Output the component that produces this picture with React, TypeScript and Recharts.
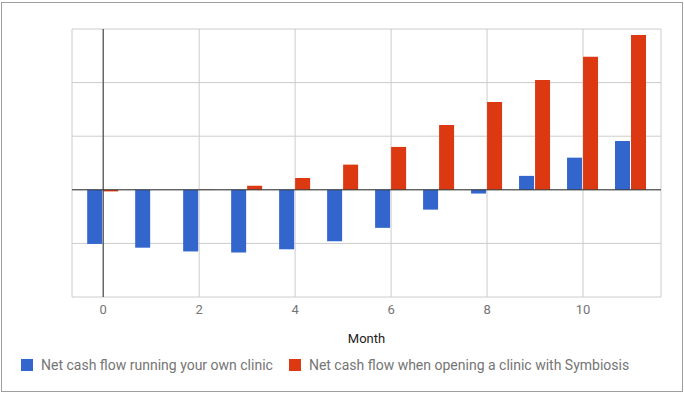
import { BarChart, Bar, XAxis, YAxis, CartesianGrid, ReferenceLine, Label } from 'recharts';

const months = [0, 1, 2, 3, 4, 5, 6, 7, 8, 9, 10, 11];
const ownClinic = [-1.01, -1.08, -1.15, -1.17, -1.11, -0.96, -0.71, -0.37, -0.07, 0.26, 0.6, 0.91];
const symbiosis = [-0.03, 0, 0.005, 0.075, 0.22, 0.47, 0.8, 1.21, 1.64, 2.05, 2.48, 2.89];
const xTicks = [0, 2, 4, 6, 8, 10];
const yTicks = [-2, -1, 0, 1, 2, 3];

const seriesNames = ['Net cash flow running your own clinic', 'Net cash flow when opening a clinic with Symbiosis'];
const colors = ['#3366cc', '#dc3912'];

const data = months.map((m, i) => ({ month: m, own: ownClinic[i], sym: symbiosis[i] }));

const font = 'Roboto, Arial, sans-serif';

const App = () => {
  return (
    <div style={{ position: 'absolute', left: 0, top: 0, width: 684, height: 394, background: '#fff', fontFamily: font }}>
      <div style={{ position: 'absolute', left: 1, top: 2, width: 680, height: 388, border: '1px solid #9e9e9e' }} />
      <div style={{ position: 'absolute', left: 0, top: 0 }}>
        <BarChart width={684} height={394} data={data} margin={{ top: 29, right: 23, left: 72, bottom: 47 }} barGap={1}>
          <CartesianGrid stroke="#cccccc" />
          <XAxis
            dataKey="month"
            type="number"
            domain={[-0.65, 11.625]}
            allowDataOverflow
            ticks={xTicks}
            tickLine={false}
            axisLine={false}
            height={50}
            tick={{ fill: '#757575', fontSize: 13, fontFamily: font }}
          >
            <Label value="Month" position="insideBottom" offset={4} style={{ fill: '#222', fontSize: 13, fontFamily: font }} />
          </XAxis>
          <YAxis type="number" domain={[-2, 3]} ticks={yTicks} hide />
          <ReferenceLine x={0} stroke="#333333" />
          <Bar dataKey="own" name={seriesNames[0]} fill={colors[0]} barSize={15} isAnimationActive={false} />
          <Bar dataKey="sym" name={seriesNames[1]} fill={colors[1]} barSize={15} isAnimationActive={false} />
          <ReferenceLine y={0} stroke="#333333" />
        </BarChart>
      </div>
      <div style={{ position: 'absolute', left: 21, top: 357, display: 'flex', alignItems: 'center', fontSize: 14, color: '#757575', whiteSpace: 'nowrap' }}>
        {seriesNames.map((name, i) => (
          <div key={name} style={{ display: 'flex', alignItems: 'center', marginRight: 16 }}>
            <span style={{ display: 'inline-block', width: 12, height: 12, background: colors[i], marginRight: 8 }} />
            <span>{name}</span>
          </div>
        ))}
      </div>
    </div>
  );
};

export default App;
